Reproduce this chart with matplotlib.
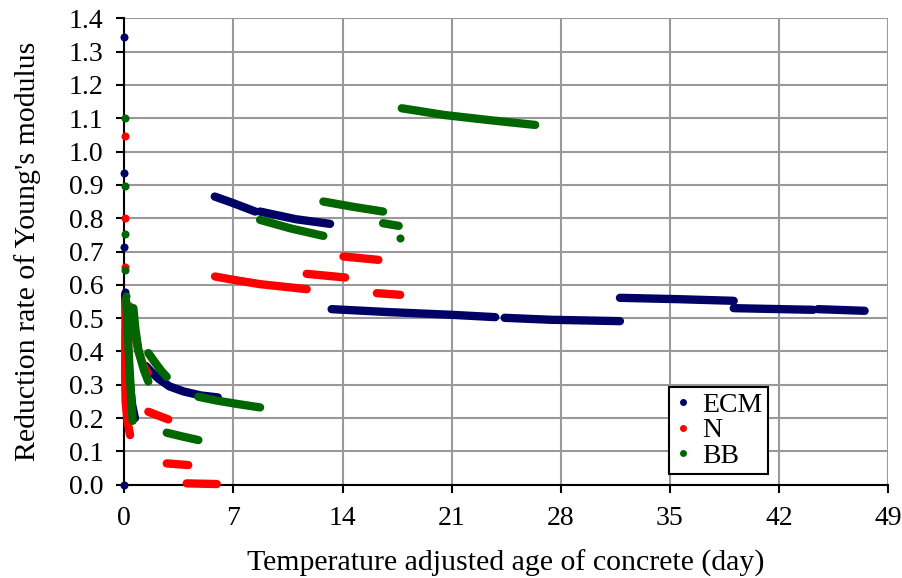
import numpy as np
import matplotlib
matplotlib.use('Agg')
import matplotlib.pyplot as plt
from matplotlib.lines import Line2D

nan = np.nan

# ECM: isolated early readings + segments (nan separates segments)
ecm_pts_x = [0.01, 0.01, 0.01, 0.02, 0.01]
ecm_pts_y = [1.345, 0.935, 0.713, 0.578, 0.0]
ecm_x = [0.05, 0.15, 0.3, 0.5, 0.68, nan,
         1.4, 1.7, 2.2, 2.9, 3.8, 4.9, 6.0, nan,
         5.8, 7.0, 8.4, nan,
         8.7, 11.0, 13.2, nan,
         13.3, 17.0, 21.0, 23.8, nan,
         24.4, 27.4, nan,
         27.5, 31.8, nan,
         31.8, 35.5, 39.1, nan,
         39.1, 44.2, nan,
         44.5, 47.5]
ecm_y = [0.57, 0.45, 0.33, 0.24, 0.20, nan,
         0.356, 0.340, 0.318, 0.295, 0.280, 0.268, 0.262, nan,
         0.865, 0.845, 0.820, nan,
         0.820, 0.797, 0.783, nan,
         0.527, 0.518, 0.510, 0.503, nan,
         0.501, 0.495, nan,
         0.495, 0.491, nan,
         0.561, 0.557, 0.552, nan,
         0.530, 0.525, nan,
         0.527, 0.522]

# N
n_pts_x = [0.02, 0.02, 0.02, 0.03]
n_pts_y = [1.047, 0.802, 0.653, 0.555]
n_x = [0.08, 0.06, 0.05, 0.08, 0.2, 0.37, nan,
       0.35, 0.6, 0.9, 1.2, 1.5, nan,
       1.54, 2.2, 2.82, nan,
       2.72, 4.1, nan,
       4.0, 5.93, nan,
       5.82, 7.0, 8.71, 10.3, 11.7, nan,
       11.7, 14.17, nan,
       14.06, 16.3, nan,
       16.2, 17.7]
n_y = [0.545, 0.45, 0.33, 0.25, 0.19, 0.149, nan,
       0.535, 0.47, 0.40, 0.36, 0.335, nan,
       0.219, 0.207, 0.196, nan,
       0.064, 0.059, nan,
       0.004, 0.002, nan,
       0.625, 0.615, 0.602, 0.594, 0.587, nan,
       0.633, 0.622, nan,
       0.685, 0.675, nan,
       0.575, 0.570]

# BB
bb_pts_x = [0.02, 0.02, 0.03, 0.05, 0.1, 17.7]
bb_pts_y = [1.102, 0.898, 0.753, 0.645, 0.565, 0.740]
bb_x = [0.12, 0.18, 0.24, 0.3, 0.38, 0.46, 0.54, nan,
        0.58, 0.7, 0.9, 1.1, 1.25, 1.54, nan,
        1.54, 2.0, 2.4, 2.72, nan,
        2.72, 3.7, 4.75, nan,
        4.75, 6.0, 7.3, 8.71, nan,
        8.71, 10.7, 12.77, nan,
        12.77, 14.7, 16.6, nan,
        16.6, 17.6, nan,
        17.8, 20.5, 23.5, 26.36]
bb_y = [0.55, 0.50, 0.44, 0.38, 0.31, 0.24, 0.192, nan,
        0.53, 0.47, 0.405, 0.37, 0.345, 0.31, nan,
        0.395, 0.365, 0.34, 0.324, nan,
        0.156, 0.145, 0.134, nan,
        0.264, 0.252, 0.242, 0.232, nan,
        0.795, 0.769, 0.747, nan,
        0.850, 0.834, 0.820, nan,
        0.785, 0.777, nan,
        1.130, 1.110, 1.094, 1.080]

x_ticks = [0, 7, 14, 21, 28, 35, 42, 49]
y_ticks = np.arange(0, 1.41, 0.1)

series = [('ECM', '#000066', ecm_x, ecm_y, ecm_pts_x, ecm_pts_y),
          ('N', '#ff0000', n_x, n_y, n_pts_x, n_pts_y),
          ('BB', '#006600', bb_x, bb_y, bb_pts_x, bb_pts_y)]

plt.rcParams['font.family'] = ['Liberation Serif', 'DejaVu Serif']

fig = plt.figure(figsize=(9.03, 5.78), dpi=100)
ax = fig.add_axes([0.1377, 0.1614, 0.8457, 0.8069])

handles = []
for z, (name, col, sx, sy, px, py) in enumerate(series):
    ax.plot(sx, sy, color=col, lw=6, solid_capstyle='round',
            solid_joinstyle='round', zorder=3 + z, clip_on=False)
    ax.plot(px, py, 'o', color=col, ms=5.8, mew=0, zorder=3 + z, clip_on=False)
    handles.append(Line2D([], [], marker='o', ls='none', color=col, ms=5, mew=0, label=name))

ax.set_xlim(0, 49)
ax.set_ylim(0, 1.4)
ax.set_xticks(x_ticks)
ax.set_yticks(y_ticks)
ax.set_yticklabels(['%.1f' % v for v in y_ticks])
ax.grid(True, color='#999999', lw=1.5)
ax.set_axisbelow(True)
for s in ['top', 'right']:
    ax.spines[s].set_visible(False)
for s in ['left', 'bottom']:
    ax.spines[s].set_linewidth(1.5)
    ax.spines[s].set_zorder(2.5)
ax.tick_params(direction='out', length=6, width=1.5, labelsize=20, pad=9)

ax.set_xlabel('Temperature adjusted age of concrete (day)', fontsize=21.5, labelpad=14)
ax.set_ylabel("Reduction rate of Young's modulus", fontsize=21.5, labelpad=20)

leg = ax.legend(handles=handles, loc='lower right', bbox_to_anchor=(0.8425, 0.022),
                fontsize=20, frameon=True, fancybox=False, framealpha=1,
                edgecolor='black', handlelength=0.6, handletextpad=0.4,
                labelspacing=0.0, borderpad=0.2, borderaxespad=0)
leg.get_frame().set_linewidth(1.5)
leg.set_zorder(10)

fig.savefig('out.png', dpi=100)
